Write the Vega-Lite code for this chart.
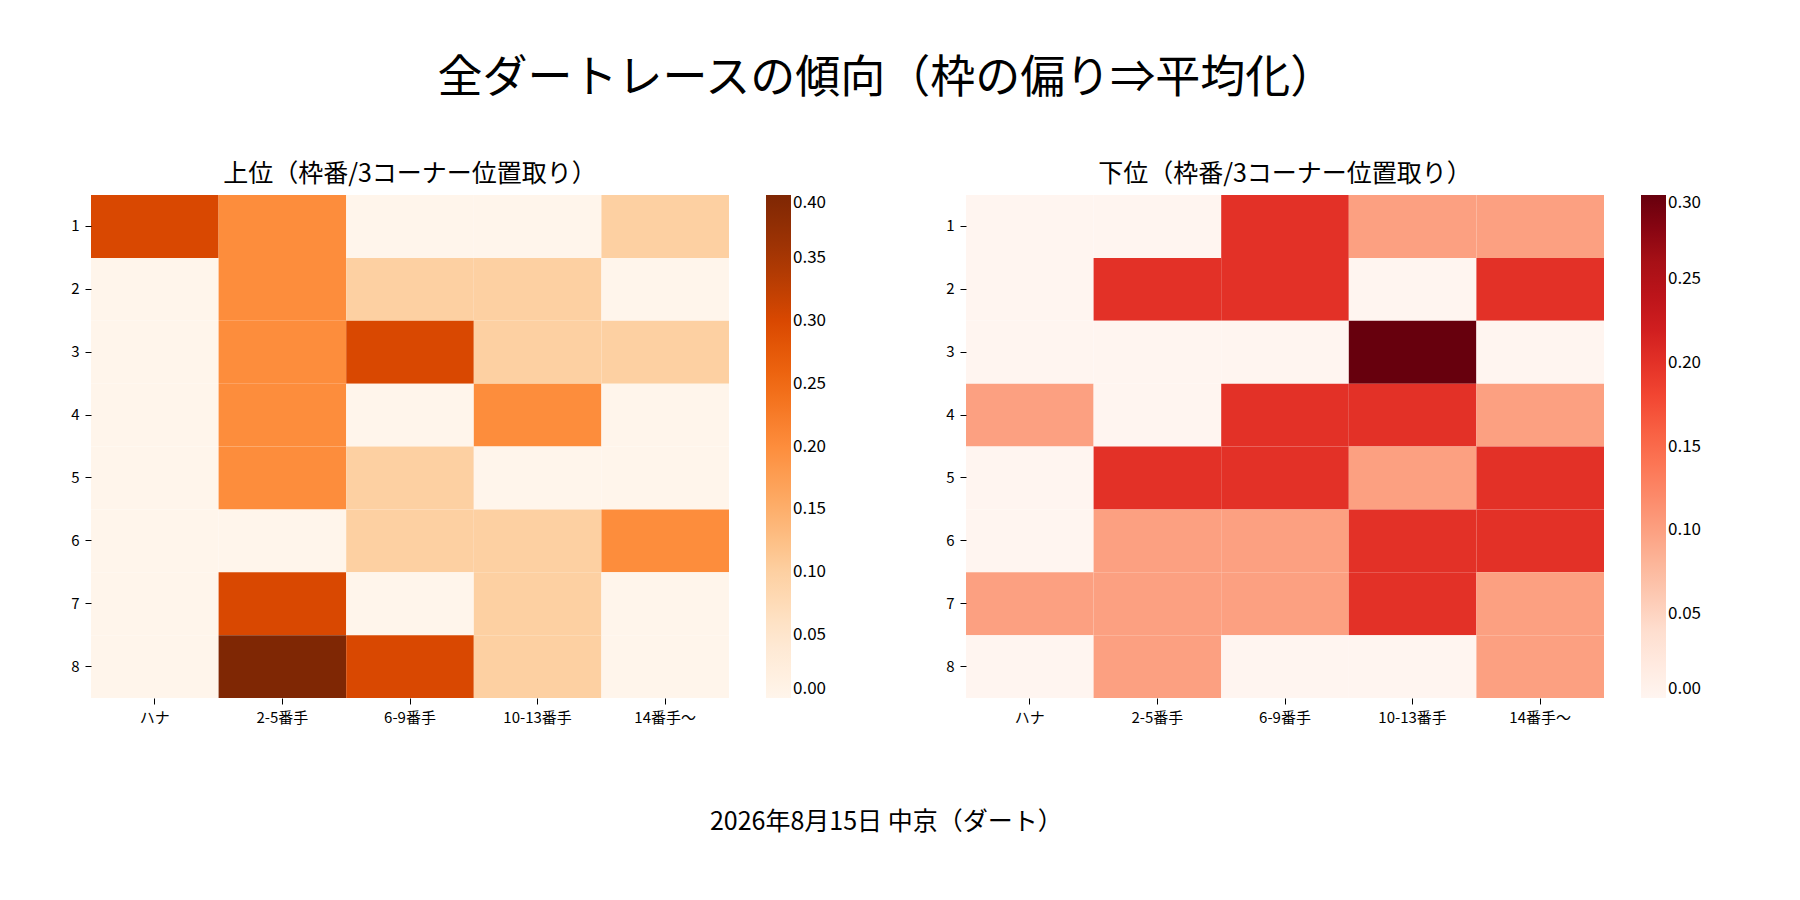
{
  "$schema": "https://vega.github.io/schema/vega-lite/v6.json",
  "background": "white",
  "padding": {"left": 70, "top": 57, "right": 20, "bottom": 20},
  "config": {
    "font": "Noto Sans CJK JP",
    "view": {"stroke": null},
    "axis": {"domain": false, "labelFontSize": 15, "labelColor": "#000", "tickColor": "#000", "tickSize": 6, "title": null, "labelPadding": 6},
    "legend": {"labelFontSize": 17, "labelColor": "#000", "gradientLength": 503, "gradientThickness": 25, "labelOverlap": false, "title": null, "padding": 0, "offset": 37}
  },
  "title": {"text": "全ダートレースの傾向（枠の偏り⇒平均化）", "fontSize": 45, "fontWeight": "normal", "color": "#000", "offset": 60, "anchor": "middle"},
  "datasets": {
    "cells": [
      {"panel": "upper", "frame": 1, "pos": "ハナ", "value": 0.3},
      {"panel": "upper", "frame": 1, "pos": "2-5番手", "value": 0.2},
      {"panel": "upper", "frame": 1, "pos": "6-9番手", "value": 0.0},
      {"panel": "upper", "frame": 1, "pos": "10-13番手", "value": 0.0},
      {"panel": "upper", "frame": 1, "pos": "14番手〜", "value": 0.1},
      {"panel": "upper", "frame": 2, "pos": "ハナ", "value": 0.0},
      {"panel": "upper", "frame": 2, "pos": "2-5番手", "value": 0.2},
      {"panel": "upper", "frame": 2, "pos": "6-9番手", "value": 0.1},
      {"panel": "upper", "frame": 2, "pos": "10-13番手", "value": 0.1},
      {"panel": "upper", "frame": 2, "pos": "14番手〜", "value": 0.0},
      {"panel": "upper", "frame": 3, "pos": "ハナ", "value": 0.0},
      {"panel": "upper", "frame": 3, "pos": "2-5番手", "value": 0.2},
      {"panel": "upper", "frame": 3, "pos": "6-9番手", "value": 0.3},
      {"panel": "upper", "frame": 3, "pos": "10-13番手", "value": 0.1},
      {"panel": "upper", "frame": 3, "pos": "14番手〜", "value": 0.1},
      {"panel": "upper", "frame": 4, "pos": "ハナ", "value": 0.0},
      {"panel": "upper", "frame": 4, "pos": "2-5番手", "value": 0.2},
      {"panel": "upper", "frame": 4, "pos": "6-9番手", "value": 0.0},
      {"panel": "upper", "frame": 4, "pos": "10-13番手", "value": 0.2},
      {"panel": "upper", "frame": 4, "pos": "14番手〜", "value": 0.0},
      {"panel": "upper", "frame": 5, "pos": "ハナ", "value": 0.0},
      {"panel": "upper", "frame": 5, "pos": "2-5番手", "value": 0.2},
      {"panel": "upper", "frame": 5, "pos": "6-9番手", "value": 0.1},
      {"panel": "upper", "frame": 5, "pos": "10-13番手", "value": 0.0},
      {"panel": "upper", "frame": 5, "pos": "14番手〜", "value": 0.0},
      {"panel": "upper", "frame": 6, "pos": "ハナ", "value": 0.0},
      {"panel": "upper", "frame": 6, "pos": "2-5番手", "value": 0.0},
      {"panel": "upper", "frame": 6, "pos": "6-9番手", "value": 0.1},
      {"panel": "upper", "frame": 6, "pos": "10-13番手", "value": 0.1},
      {"panel": "upper", "frame": 6, "pos": "14番手〜", "value": 0.2},
      {"panel": "upper", "frame": 7, "pos": "ハナ", "value": 0.0},
      {"panel": "upper", "frame": 7, "pos": "2-5番手", "value": 0.3},
      {"panel": "upper", "frame": 7, "pos": "6-9番手", "value": 0.0},
      {"panel": "upper", "frame": 7, "pos": "10-13番手", "value": 0.1},
      {"panel": "upper", "frame": 7, "pos": "14番手〜", "value": 0.0},
      {"panel": "upper", "frame": 8, "pos": "ハナ", "value": 0.0},
      {"panel": "upper", "frame": 8, "pos": "2-5番手", "value": 0.4},
      {"panel": "upper", "frame": 8, "pos": "6-9番手", "value": 0.3},
      {"panel": "upper", "frame": 8, "pos": "10-13番手", "value": 0.1},
      {"panel": "upper", "frame": 8, "pos": "14番手〜", "value": 0.0},
      {"panel": "lower", "frame": 1, "pos": "ハナ", "value": 0.0},
      {"panel": "lower", "frame": 1, "pos": "2-5番手", "value": 0.0},
      {"panel": "lower", "frame": 1, "pos": "6-9番手", "value": 0.2},
      {"panel": "lower", "frame": 1, "pos": "10-13番手", "value": 0.1},
      {"panel": "lower", "frame": 1, "pos": "14番手〜", "value": 0.1},
      {"panel": "lower", "frame": 2, "pos": "ハナ", "value": 0.0},
      {"panel": "lower", "frame": 2, "pos": "2-5番手", "value": 0.2},
      {"panel": "lower", "frame": 2, "pos": "6-9番手", "value": 0.2},
      {"panel": "lower", "frame": 2, "pos": "10-13番手", "value": 0.0},
      {"panel": "lower", "frame": 2, "pos": "14番手〜", "value": 0.2},
      {"panel": "lower", "frame": 3, "pos": "ハナ", "value": 0.0},
      {"panel": "lower", "frame": 3, "pos": "2-5番手", "value": 0.0},
      {"panel": "lower", "frame": 3, "pos": "6-9番手", "value": 0.0},
      {"panel": "lower", "frame": 3, "pos": "10-13番手", "value": 0.3},
      {"panel": "lower", "frame": 3, "pos": "14番手〜", "value": 0.0},
      {"panel": "lower", "frame": 4, "pos": "ハナ", "value": 0.1},
      {"panel": "lower", "frame": 4, "pos": "2-5番手", "value": 0.0},
      {"panel": "lower", "frame": 4, "pos": "6-9番手", "value": 0.2},
      {"panel": "lower", "frame": 4, "pos": "10-13番手", "value": 0.2},
      {"panel": "lower", "frame": 4, "pos": "14番手〜", "value": 0.1},
      {"panel": "lower", "frame": 5, "pos": "ハナ", "value": 0.0},
      {"panel": "lower", "frame": 5, "pos": "2-5番手", "value": 0.2},
      {"panel": "lower", "frame": 5, "pos": "6-9番手", "value": 0.2},
      {"panel": "lower", "frame": 5, "pos": "10-13番手", "value": 0.1},
      {"panel": "lower", "frame": 5, "pos": "14番手〜", "value": 0.2},
      {"panel": "lower", "frame": 6, "pos": "ハナ", "value": 0.0},
      {"panel": "lower", "frame": 6, "pos": "2-5番手", "value": 0.1},
      {"panel": "lower", "frame": 6, "pos": "6-9番手", "value": 0.1},
      {"panel": "lower", "frame": 6, "pos": "10-13番手", "value": 0.2},
      {"panel": "lower", "frame": 6, "pos": "14番手〜", "value": 0.2},
      {"panel": "lower", "frame": 7, "pos": "ハナ", "value": 0.1},
      {"panel": "lower", "frame": 7, "pos": "2-5番手", "value": 0.1},
      {"panel": "lower", "frame": 7, "pos": "6-9番手", "value": 0.1},
      {"panel": "lower", "frame": 7, "pos": "10-13番手", "value": 0.2},
      {"panel": "lower", "frame": 7, "pos": "14番手〜", "value": 0.1},
      {"panel": "lower", "frame": 8, "pos": "ハナ", "value": 0.0},
      {"panel": "lower", "frame": 8, "pos": "2-5番手", "value": 0.1},
      {"panel": "lower", "frame": 8, "pos": "6-9番手", "value": 0.0},
      {"panel": "lower", "frame": 8, "pos": "10-13番手", "value": 0.0},
      {"panel": "lower", "frame": 8, "pos": "14番手〜", "value": 0.1}
    ]
  },
  "vconcat": [
    {
      "title": {"text": "2026年8月15日 中京（ダート）", "orient": "bottom", "fontSize": 25, "fontWeight": "normal", "color": "#000", "offset": 85, "anchor": "middle"},
      "hconcat": [
        {
          "title": {"text": "上位（枠番/3コーナー位置取り）", "fontSize": 25, "fontWeight": "normal", "color": "#000", "offset": 8},
          "width": 638,
          "height": 503,
          "data": {"name": "cells"},
          "transform": [{"filter": "datum.panel === 'upper'"}],
          "mark": {"type": "rect", "strokeWidth": 0},
          "encoding": {
            "x": {"field": "pos", "type": "nominal", "sort": ["ハナ", "2-5番手", "6-9番手", "10-13番手", "14番手〜"], "scale": {"paddingInner": 0, "paddingOuter": 0}, "axis": {"labelAngle": 0}},
            "y": {"field": "frame", "type": "ordinal", "scale": {"paddingInner": 0, "paddingOuter": 0}},
            "color": {"field": "value", "type": "quantitative", "scale": {"domain": [0, 0.05, 0.1, 0.15, 0.2, 0.25, 0.3, 0.35, 0.4], "range": ["#fff5eb", "#fee6ce", "#fdd0a2", "#fdae6b", "#fd8d3c", "#f16913", "#d94801", "#a63603", "#7f2704"]}, "legend": {"values": [0, 0.05, 0.1, 0.15, 0.2, 0.25, 0.3, 0.35, 0.4], "format": ".2f"}}
          }
        },
        {
          "title": {"text": "下位（枠番/3コーナー位置取り）", "fontSize": 25, "fontWeight": "normal", "color": "#000", "offset": 8},
          "width": 638,
          "height": 503,
          "data": {"name": "cells"},
          "transform": [{"filter": "datum.panel === 'lower'"}],
          "mark": {"type": "rect", "strokeWidth": 0},
          "encoding": {
            "x": {"field": "pos", "type": "nominal", "sort": ["ハナ", "2-5番手", "6-9番手", "10-13番手", "14番手〜"], "scale": {"paddingInner": 0, "paddingOuter": 0}, "axis": {"labelAngle": 0}},
            "y": {"field": "frame", "type": "ordinal", "scale": {"paddingInner": 0, "paddingOuter": 0}},
            "color": {"field": "value", "type": "quantitative", "scale": {"domain": [0, 0.0375, 0.075, 0.1125, 0.15, 0.1875, 0.225, 0.2625, 0.3], "range": ["#fff5f0", "#fee0d2", "#fcbba1", "#fc9272", "#fb6a4a", "#ef3b2c", "#cb181d", "#a50f15", "#67000d"]}, "legend": {"values": [0, 0.05, 0.1, 0.15, 0.2, 0.25, 0.3], "format": ".2f"}}
          }
        }
      ],
      "resolve": {"scale": {"color": "independent"}},
      "spacing": 118
    }
  ]
}
